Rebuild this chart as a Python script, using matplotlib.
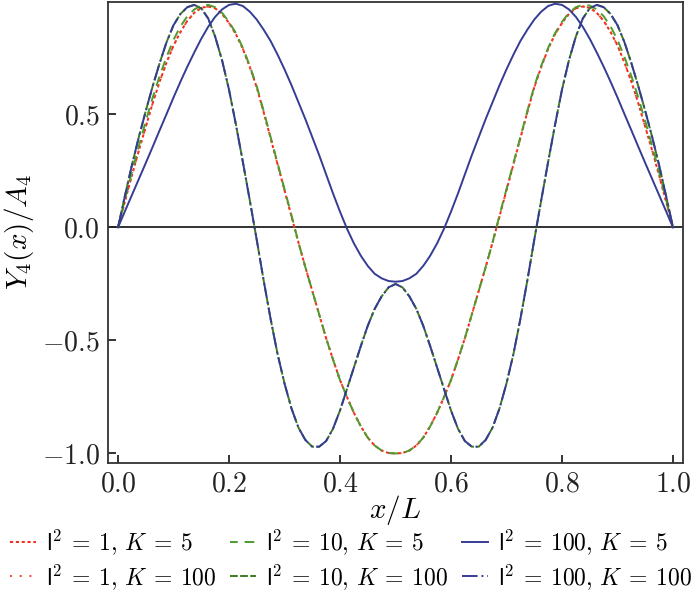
import numpy as np
import matplotlib
matplotlib.use("Agg")
import matplotlib.pyplot as plt

plt.rcParams['mathtext.fontset'] = 'cm'
plt.rcParams['font.family'] = ['cmr10']
plt.rcParams['axes.formatter.use_mathtext'] = True

# sample positions along the beam (x/L)
x_pos = [0.0, 0.0125, 0.025, 0.0375, 0.05, 0.0625, 0.075, 0.0875, 0.1, 0.1125,
         0.125, 0.1375, 0.15, 0.1625, 0.175, 0.1875, 0.2, 0.2125, 0.225, 0.2375,
         0.25, 0.2625, 0.275, 0.2875, 0.3, 0.3125, 0.325, 0.3375, 0.35, 0.3625,
         0.375, 0.3875, 0.4, 0.4125, 0.425, 0.4375, 0.45, 0.4625, 0.475, 0.4875,
         0.5, 0.5125, 0.525, 0.5375, 0.55, 0.5625, 0.575, 0.5875, 0.6, 0.6125,
         0.625, 0.6375, 0.65, 0.6625, 0.675, 0.6875, 0.7, 0.7125, 0.725, 0.7375,
         0.75, 0.7625, 0.775, 0.7875, 0.8, 0.8125, 0.825, 0.8375, 0.85, 0.8625,
         0.875, 0.8875, 0.9, 0.9125, 0.925, 0.9375, 0.95, 0.9625, 0.975, 0.9875, 1.0]

# l^2 = 1, K = 5
y_l1_k5 = [0.0, 0.115, 0.23, 0.34, 0.445, 0.55, 0.645, 0.73, 0.805, 0.865,
           0.915, 0.95, 0.972, 0.978, 0.97, 0.945, 0.905, 0.855, 0.79, 0.71,
           0.62, 0.51, 0.395, 0.28, 0.165, 0.05, -0.065, -0.175, -0.28, -0.385,
           -0.49, -0.585, -0.675, -0.75, -0.82, -0.88, -0.93, -0.965, -0.987, -0.998,
           -1.0,
           -0.998, -0.987, -0.965, -0.93, -0.88, -0.82, -0.75, -0.675, -0.585, -0.49,
           -0.385, -0.28, -0.175, -0.065, 0.05, 0.165, 0.28, 0.395, 0.51, 0.62,
           0.71, 0.79, 0.855, 0.905, 0.945, 0.97, 0.978, 0.972, 0.95, 0.915,
           0.865, 0.805, 0.73, 0.645, 0.55, 0.445, 0.34, 0.23, 0.115, 0.0]
# l^2 = 1, K = 100 (drawn right on top of K = 5)
y_l1_k100 = list(y_l1_k5)

# l^2 = 10, K = 5
y_l10_k5 = [0.0, 0.125, 0.245, 0.36, 0.47, 0.575, 0.67, 0.755, 0.83, 0.89,
            0.935, 0.965, 0.982, 0.985, 0.975, 0.95, 0.91, 0.86, 0.795, 0.715,
            0.625, 0.515, 0.40, 0.285, 0.17, 0.055, -0.065, -0.175, -0.28, -0.385,
            -0.49, -0.585, -0.675, -0.75, -0.82, -0.88, -0.93, -0.965, -0.987, -0.998,
            -1.0,
            -0.998, -0.987, -0.965, -0.93, -0.88, -0.82, -0.75, -0.675, -0.585, -0.49,
            -0.385, -0.28, -0.175, -0.065, 0.055, 0.17, 0.285, 0.40, 0.515, 0.625,
            0.715, 0.795, 0.86, 0.91, 0.95, 0.975, 0.985, 0.982, 0.965, 0.935,
            0.89, 0.83, 0.755, 0.67, 0.575, 0.47, 0.36, 0.245, 0.125, 0.0]

# l^2 = 100, K = 5
y_l100_k5 = [0.0, 0.072, 0.143, 0.214, 0.285, 0.357, 0.43, 0.502, 0.575, 0.645,
             0.712, 0.775, 0.835, 0.888, 0.932, 0.965, 0.985, 0.99, 0.98, 0.955,
             0.92, 0.875, 0.825, 0.765, 0.70, 0.63, 0.555, 0.48, 0.40, 0.32,
             0.235, 0.15, 0.07, -0.005, -0.07, -0.125, -0.17, -0.205, -0.225, -0.237,
             -0.24,
             -0.237, -0.225, -0.205, -0.17, -0.125, -0.07, -0.005, 0.07, 0.15, 0.235,
             0.32, 0.40, 0.48, 0.555, 0.63, 0.70, 0.765, 0.825, 0.875, 0.92,
             0.955, 0.98, 0.99, 0.985, 0.965, 0.932, 0.888, 0.835, 0.775, 0.712,
             0.645, 0.575, 0.502, 0.43, 0.357, 0.285, 0.214, 0.143, 0.072, 0.0]

# l^2 = 100, K = 100
y_l100_k100 = [0.0, 0.14, 0.275, 0.40, 0.515, 0.625, 0.727, 0.82, 0.895, 0.945,
               0.975, 0.985, 0.97, 0.925, 0.845, 0.74, 0.61, 0.455, 0.29, 0.12,
               -0.055, -0.235, -0.405, -0.56, -0.69, -0.80, -0.885, -0.94, -0.97, -0.97,
               -0.945, -0.89, -0.81, -0.715, -0.62, -0.525, -0.435, -0.36, -0.305, -0.265,
               -0.25,
               -0.265, -0.305, -0.36, -0.435, -0.525, -0.62, -0.715, -0.81, -0.89, -0.945,
               -0.97, -0.97, -0.94, -0.885, -0.80, -0.69, -0.56, -0.405, -0.235, -0.055,
               0.12, 0.29, 0.455, 0.61, 0.74, 0.845, 0.925, 0.97, 0.985, 0.975,
               0.945, 0.895, 0.82, 0.727, 0.625, 0.515, 0.40, 0.275, 0.14, 0.0]
# l^2 = 10, K = 100 (coincides with l^2 = 100, K = 100)
y_l10_k100 = list(y_l100_k100)

labels = [r'$\mathsf{l}^2\:=\:1,\,K\:=\:5$', r'$\mathsf{l}^2\:=\:1,\,K\:=\:100$',
          r'$\mathsf{l}^2\:=\:10,\,K\:=\:5$', r'$\mathsf{l}^2\:=\:10,\,K\:=\:100$',
          r'$\mathsf{l}^2\:=\:100,\,K\:=\:5$', r'$\mathsf{l}^2\:=\:100,\,K\:=\:100$']

fig = plt.figure(figsize=(7, 6.01), dpi=100)
ax = fig.add_axes([108 / 700, 1 - 462.5 / 601, 575 / 700, 461 / 601])

red = '#f5261a'
orange = '#f04a26'
green = '#4c9c2e'
dgreen = '#3f7a20'
blue = '#353c94'

ax.axhline(0, color='#222222', lw=1.3, zorder=1)

h = []
h += ax.plot(x_pos, y_l1_k5, color=red, lw=1.4, ls=(0, (1.6, 1.4)))
h += ax.plot(x_pos, y_l1_k100, color=orange, lw=1.4, ls=(0, (1, 4)))
h += ax.plot(x_pos, y_l10_k5, color=green, lw=1.4, ls=(1, (5, 3.5)))
h += ax.plot(x_pos, y_l10_k100, color=dgreen, lw=1.4, ls=(0, (4, 1.2)))
h += ax.plot(x_pos, y_l100_k5, color=blue, lw=1.4, ls='-')
h += ax.plot(x_pos, y_l100_k100, color=blue, lw=1.4, ls=(0, (8, 2, 1, 2)))

ax.set_xlim(-0.018, 1.018)
ax.set_ylim(-1.04, 1.0)
ax.set_xticks([0.0, 0.2, 0.4, 0.6, 0.8, 1.0])
ax.set_yticks([-1.0, -0.5, 0.0, 0.5])
ax.xaxis.set_major_formatter(matplotlib.ticker.FormatStrFormatter('$%.1f$'))
ax.yaxis.set_major_formatter(matplotlib.ticker.FormatStrFormatter('$%.1f$'))
ax.tick_params(direction='in', length=6, width=1.3, labelsize=20, pad=6,
               colors='#222222')
for s in ax.spines.values():
    s.set_linewidth(1.3)
    s.set_color('#333333')

ax.set_xlabel(r'$x/L$', fontsize=21, labelpad=-3)
ax.set_ylabel(r'$Y_4(x)/A_4$', fontsize=21, labelpad=4)

fig.legend(h, labels, loc='upper left', bbox_to_anchor=(8 / 700, 1 - 525 / 601),
           ncol=3, frameon=False, fontsize=17, handlelength=1.1,
           handletextpad=0.4, columnspacing=0.6, labelspacing=0.2,
           borderaxespad=0.0, borderpad=0.1)

fig.savefig('out.png', dpi=100)
